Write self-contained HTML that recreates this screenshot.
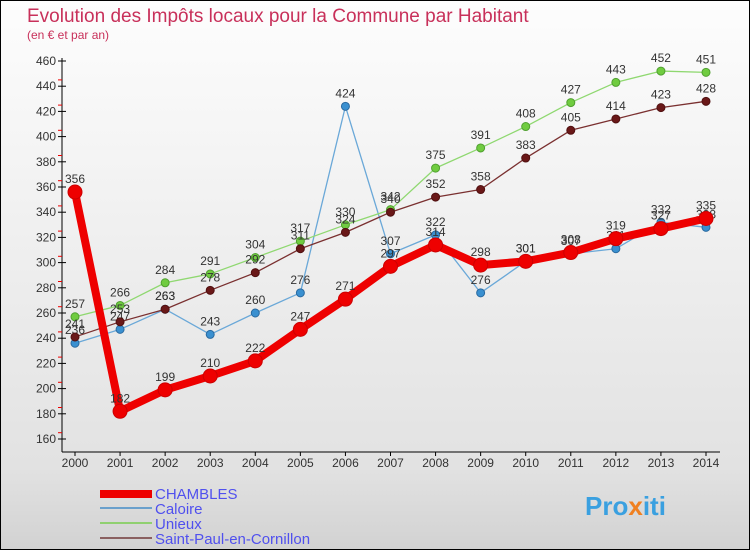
<!DOCTYPE html>
<html><head><meta charset="utf-8"><style>
body{margin:0;width:750px;height:550px;overflow:hidden;font-family:"Liberation Sans",sans-serif}
svg text{font-family:"Liberation Sans",sans-serif}
</style></head><body>
<svg width="750" height="550">
<defs><linearGradient id="bg" x1="0" y1="0" x2="0" y2="1"><stop offset="0" stop-color="#fdfdfd"/><stop offset="0.85" stop-color="#e2e2e2"/><stop offset="1" stop-color="#d2d2d2"/></linearGradient></defs>
<rect x="0.5" y="0.5" width="749" height="549" fill="url(#bg)" stroke="#000"/>
<text x="27" y="22" font-size="19" fill="#c8305a">Evolution des Impôts locaux pour la Commune par Habitant</text>
<text x="27" y="39" font-size="12" fill="#c8305a">(en € et par an)</text>
<g id="axes"></g><g id="series"></g>
<g>
<rect x="100" y="490" width="52" height="8" fill="#e00"/>
<text x="155" y="499" font-size="15" fill="#5050ee">CHAMBLES</text>
<rect x="100" y="507" width="52" height="2" fill="#6aa0cc"/>
<text x="155" y="514" font-size="15" fill="#5050ee">Caloire</text>
<rect x="100" y="522" width="52" height="2" fill="#90d070"/>
<text x="155" y="529" font-size="15" fill="#5050ee">Unieux</text>
<rect x="100" y="537" width="52" height="2" fill="#8a6060"/>
<text x="155" y="544" font-size="15" fill="#5050ee">Saint-Paul-en-Cornillon</text>
</g>
<text x="585" y="515" font-size="26" font-weight="bold" fill="#3aa0e0">Pro<tspan fill="#f08020">x</tspan>iti</text>
</svg>
<script>
const years=[2000,2001,2002,2003,2004,2005,2006,2007,2008,2009,2010,2011,2012,2013,2014];
const yTicks=[160,180,200,220,240,260,280,300,320,340,360,380,400,420,440,460];
const chambles=[356,182,199,210,222,247,271,297,314,298,301,308,319,327,335];
const caloire=[236,247,263,243,260,276,424,307,322,276,301,307,311,332,328];
const unieux=[257,266,284,291,304,317,330,342,375,391,408,427,443,452,451];
const saintPaul=[241,253,263,278,292,311,324,340,352,358,383,405,414,423,428];
const NS="http://www.w3.org/2000/svg";
function X(i){return 75+i*(706-75)/(years.length-1);}
function Y(v){return 61+(460-v)*(439-61)/300;}
function mk(t,a,p){const e=document.createElementNS(NS,t);for(const k in a)e.setAttribute(k,a[k]);p.appendChild(e);return e;}
const ax=document.getElementById('axes'),sg=document.getElementById('series');
let l=mk('line',{x1:62,y1:58,x2:62,y2:452,stroke:'#000'},ax);

l=mk('line',{x1:62,y1:452,x2:720,y2:452,stroke:'#000'},ax);

yTicks.forEach(v=>{const y=Y(v);
 mk('line',{x1:58,y1:y,x2:66,y2:y,stroke:'#000'},ax);
 if(v<460)mk('line',{x1:58,y1:y-6.3,x2:62,y2:y-6.3,stroke:'#e00'},ax);
 const t=mk('text',{x:56,y:y+4,'font-size':12,fill:'#333','text-anchor':'end'},ax);t.textContent=v;
 });
years.forEach((yr,i)=>{const x=X(i);mk('line',{x1:x,y1:452,x2:x,y2:456,stroke:'#000'},ax);
 const t=mk('text',{x:x,y:467,'font-size':12,fill:'#333','text-anchor':'middle'},ax);t.textContent=yr;
 });
function series(data,color,w,r,dot,name,dotStroke){
 const g=mk('g',{},sg);
 const p=mk('polyline',{points:data.map((v,i)=>X(i)+','+Y(v)).join(' '),fill:'none',stroke:color,'stroke-width':w,'stroke-linejoin':'round'},g);
 
 data.forEach((v,i)=>{const c=mk('circle',{cx:X(i),cy:Y(v),r:r,fill:dot,stroke:dotStroke,'stroke-width':1},g);
  
  const t=mk('text',{x:X(i),y:Y(v)-9,'font-size':12,fill:'#333','text-anchor':'middle'},g);t.textContent=v;
  });
}
series(caloire,'#6aa8d8',1.3,4,'#3a90d0','caloire','#2a6aa0');
series(unieux,'#8fd870',1.3,4,'#70cc40','unieux','#50a030');
series(saintPaul,'#7a3030',1.3,4,'#6a1818','saint-paul','#501010');
series(chambles,'#ee0000',8,7,'#ee0000','chambles','#c00');
</script>
</body></html>
